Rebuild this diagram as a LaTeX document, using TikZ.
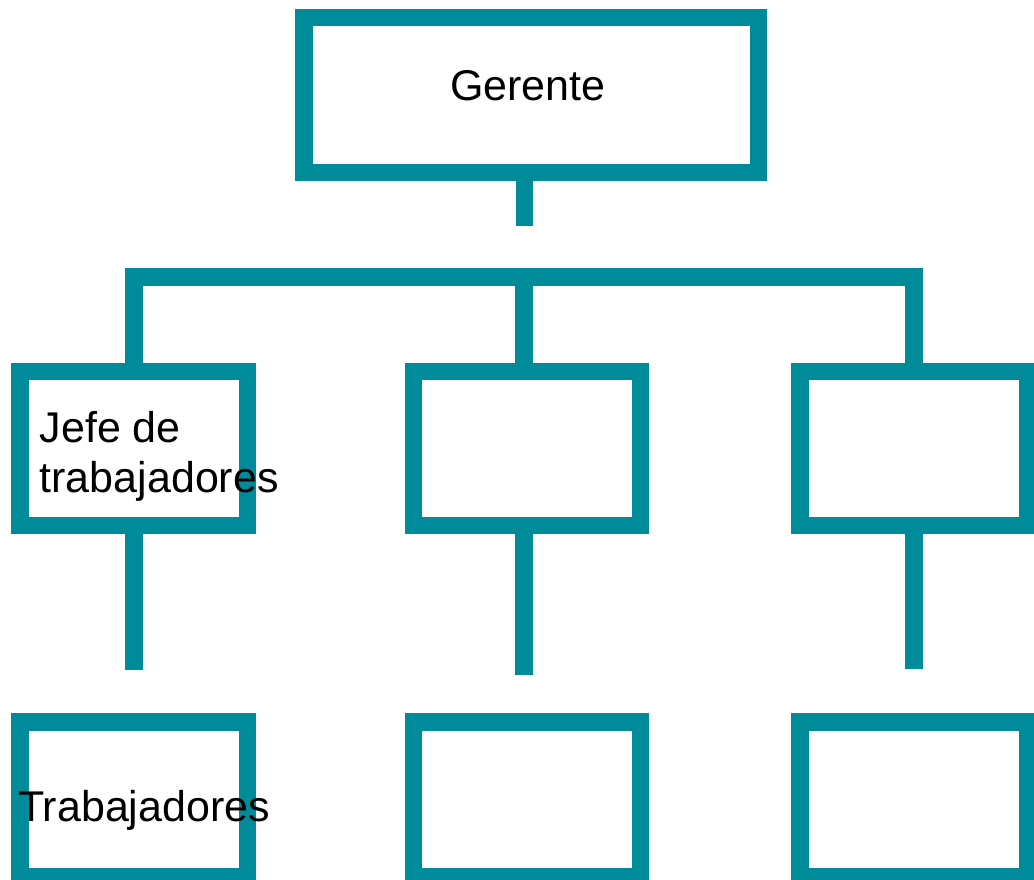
\documentclass[tikz,border=0pt]{standalone}
\usepackage{fontspec}
\setmainfont{Liberation Sans}
\definecolor{orgteal}{RGB}{0,139,154}

\begin{document}
\begin{tikzpicture}[x=1pt, y=-1pt,
    box/.style={draw=orgteal, line width=17.4pt, minimum width=227.3pt, minimum height=154.4pt, inner sep=0pt},
    link/.style={draw=orgteal, line width=17.4pt, line join=miter},
    lbl/.style={inner sep=0pt, anchor=base west, font=\fontsize{43}{49.3}\selectfont}]
    \useasboundingbox (0,0) rectangle (1034,879);
    \node[box, minimum width=454.6pt, minimum height=155pt] (gerente) at (531.3,94.85) {};
    \node[box] (jefeA) at (133.7,448.5) {};
    \node[box] (jefeB) at (527,448.5) {};
    \node[box] (jefeC) at (913.7,448.5) {};
    \node[box] (trabA) at (133.7,799.2) {};
    \node[box] (trabB) at (527,799.2) {};
    \node[box] (trabC) at (913.7,799.2) {};
    \coordinate (tope) at (524.3,225.7);
    \coordinate (bar) at (0,277);
    \coordinate (endA) at (134,669.7);
    \coordinate (endB) at (524,675);
    \coordinate (endC) at (914,669.2);
    \draw[link] (tope |- gerente.south) -- (tope);
    \draw[link] (jefeA.north -| endA) -- (endA |- bar) -- (endC |- bar) -- (jefeC.north -| endC);
    \draw[link] (endB |- bar) -- (jefeB.north -| endB);
    \draw[link] (jefeA.south -| endA) -- (endA);
    \draw[link] (jefeB.south -| endB) -- (endB);
    \draw[link] (jefeC.south -| endC) -- (endC);
    \node[lbl] (gerentetxt) at (450,100) {Gerente};
    \node[lbl, align=left] (jefetxt) at (39.5,492) {Jefe de\\trabajadores};
    \node[lbl] (trabtxt) at (18,821.7) {Trabajadores};
\end{tikzpicture}
\end{document}
